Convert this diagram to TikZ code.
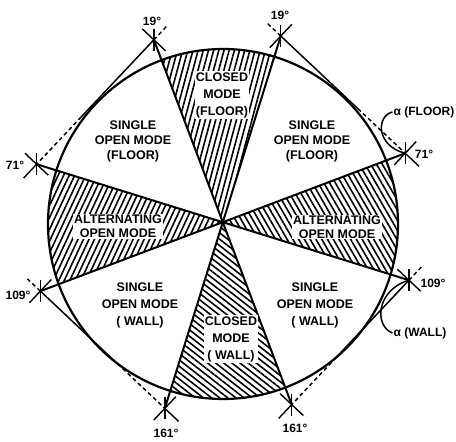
\documentclass[tikz,border=0pt]{standalone}
\usepackage{fontspec}
\setmainfont{Liberation Sans}
\usetikzlibrary{calc,patterns.meta}
\tikzset{
  rim/.style={line width=2.2pt},
  spoke/.style={line width=2pt},
  chord/.style={line width=1.5pt},
  tick/.style={line width=1.4pt},
  gap/.style={dash pattern=on 4pt off 3pt},
  hatch/.style={pattern={Lines[angle=#1,distance=5pt,line width=1.6pt]}},
  mode/.style={font=\bfseries\fontsize{12.5}{15}\selectfont, align=center, inner sep=1pt},
  boxed/.style={mode, fill=white},
  deg/.style={font=\bfseries\fontsize{12}{13}\selectfont, inner sep=1pt},
}
\begin{document}
\begin{tikzpicture}[x=1pt,y=1pt]
\useasboundingbox (0,0) rectangle (456,442);
% centre and vertices
\coordinate (O) at (222.8,219.8);
\coordinate (M) at (223,218);
\coordinate (v19r) at ($(O)+(72.7:195)$);
\coordinate (v19l) at ($(O)+(110.7:195)$);
\coordinate (v71r) at ($(O)+(20.7:195)$);
\coordinate (v71l) at ($(O)+(162.7:195)$);
\coordinate (v109r) at ($(O)+(-17.3:195)$);
\coordinate (v109l) at ($(O)+(200.7:195)$);
\coordinate (v161r) at ($(O)+(-69.3:195)$);
\coordinate (v161l) at ($(O)+(252.7:195)$);
% hatched sectors
\begin{scope}
\clip (M) circle [radius=175];
\fill[hatch=75] (O) -- ($(O)+(72.7:300)$) -- ($(O)+(110.7:300)$) -- cycle;
\fill[hatch=-60] (O) -- ($(O)+(20.7:300)$) -- ($(O)+(-17.3:300)$) -- cycle;
\fill[hatch=65] (O) -- ($(O)+(162.7:300)$) -- ($(O)+(200.7:300)$) -- cycle;
\fill[hatch=-38] (O) -- ($(O)+(252.7:300)$) -- ($(O)+(-69.3:300)$) -- cycle;
\end{scope}
\draw[rim] (M) circle [radius=175];
% spokes
\foreach \v in {v19r,v19l,v71r,v71l,v109r,v109l,v161r,v161l}
  \draw[spoke] (O) -- (\v);
% tangent lines
\foreach \p/\q in {v19l/v71l, v19r/v71r, v109l/v161l, v109r/v161r}{
  \draw[chord] (\p) -- ($(\p)!0.62!(\q)$);
  \draw[chord,gap] ($(\p)!0.62!(\q)$) -- (\q);
}
% crosses at the vertices
\foreach \p/\q/\s in {v19l/v71l/gap, v71l/v19l/solid, v19r/v71r/gap, v71r/v19r/solid,
  v109l/v161l/gap, v161l/v109l/solid, v109r/v161r/gap, v161r/v109r/solid}{
  \draw[tick,\s] (\p) -- ($(\p)!-19pt!(\q)$);
  \draw[tick] ($(\p)!16pt!90:(\q)$) -- ($(\p)!16pt!-90:(\q)$);
  \draw[tick] (\p) ++(0,11) -- ++(0,-22);
}
% sector labels
\node[mode] (sofl) at (133,301) {SINGLE\\OPEN MODE\\(FLOOR)};
\node[mode] (sofr) at (312,301) {SINGLE\\OPEN MODE\\(FLOOR)};
\node[boxed, font=\bfseries\fontsize{12.5}{17}\selectfont] (cmf) at (222,347) {CLOSED\\MODE\\(FLOOR)};
\node[boxed, font=\bfseries\fontsize{12.5}{14}\selectfont] (aoml) at (118,215.5) {ALTERNATING\\OPEN MODE};
\node[boxed, font=\bfseries\fontsize{12.5}{14}\selectfont] (aomr) at (337,215) {ALTERNATING\\OPEN MODE};
\node[mode, font=\bfseries\fontsize{12.5}{17}\selectfont] (sowl) at (140,137) {SINGLE\\OPEN MODE\\( WALL)};
\node[mode, font=\bfseries\fontsize{12.5}{17}\selectfont] (sowr) at (315,137) {SINGLE\\OPEN MODE\\( WALL)};
\node[boxed, font=\bfseries\fontsize{12.5}{17}\selectfont] (cmw) at (231,103) {CLOSED\\MODE\\( WALL)};
% angle labels
\node[deg] (d19l) at (152,421) {19°};
\node[deg] (d19r) at (280,427) {19°};
\node[deg] (d71l) at (15,277) {71°};
\node[deg] (d71r) at (424,288) {71°};
\node[deg] (d109l) at (18,147) {109°};
\node[deg] (d109r) at (433,159) {109°};
\node[deg] (d161l) at (166,9) {161°};
\node[deg] (d161r) at (295,14) {161°};
\node[deg] (afloor) at (424,330) {α (FLOOR)};
\node[deg] (awall) at (420,109) {α (WALL)};
\draw[chord] (afloor.west) .. controls (376,326) and (376,296) .. (v71r);
\draw[chord] (awall.west) .. controls (374,116) and (376,152) .. (v109r);
\end{tikzpicture}
\end{document}
